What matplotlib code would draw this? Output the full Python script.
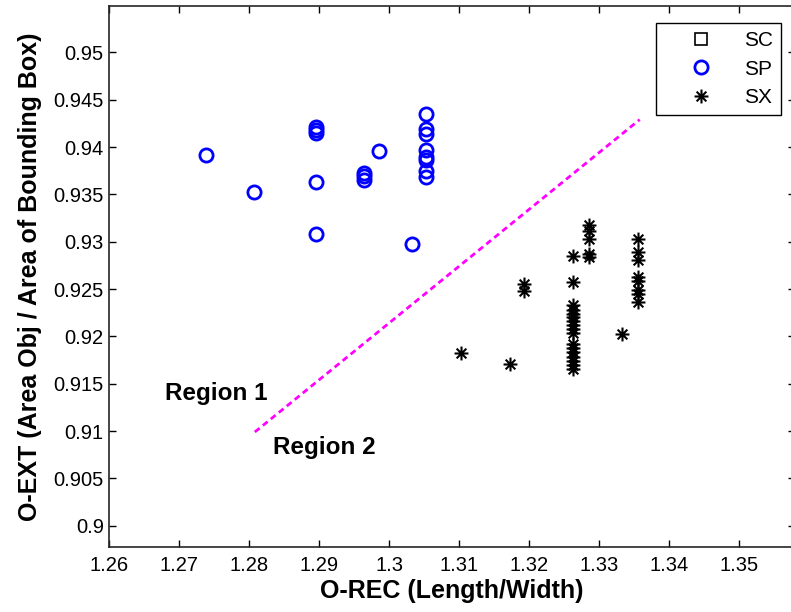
import matplotlib
matplotlib.use('Agg')
import matplotlib.pyplot as plt
from matplotlib.path import Path

plt.rcParams['font.family'] = ['Liberation Sans', 'DejaVu Sans']

# SC class - no samples fall inside the shown range
sc_x = []
sc_y = []

# SP class (blue circles)
sp_x = [1.2738, 1.2807, 1.2895, 1.2895, 1.2895, 1.2895, 1.2895,
        1.2964, 1.2964, 1.2964, 1.2985, 1.3033,
        1.3053, 1.3053, 1.3053, 1.3053, 1.3053, 1.3053, 1.3053, 1.3053]
sp_y = [0.9392, 0.9352, 0.9421, 0.9418, 0.9415, 0.9363, 0.9308,
        0.9373, 0.9369, 0.9365, 0.9396, 0.9298,
        0.9435, 0.9419, 0.9414, 0.9397, 0.9390, 0.9386, 0.9375, 0.9368]

# SX class (black asterisks)
sx_x = [1.3102, 1.3172, 1.3193, 1.3193,
        1.3263, 1.3263, 1.3263, 1.3263, 1.3263, 1.3263, 1.3263, 1.3263,
        1.3263, 1.3263, 1.3263, 1.3263, 1.3263, 1.3263, 1.3263, 1.3263, 1.3263,
        1.3286, 1.3286, 1.3286, 1.3286, 1.3286,
        1.3333,
        1.3356, 1.3356, 1.3356, 1.3356, 1.3356, 1.3356, 1.3356, 1.3356]
sx_y = [0.9182, 0.9171, 0.9255, 0.9248,
        0.9285, 0.9257, 0.9233, 0.9228, 0.9224, 0.9220, 0.9216, 0.9212,
        0.9208, 0.9204, 0.9192, 0.9188, 0.9184, 0.9178, 0.9174, 0.9170, 0.9166,
        0.9318, 0.9311, 0.9303, 0.9287, 0.9284,
        0.9202,
        0.9303, 0.9289, 0.9281, 0.9263, 0.9259, 0.9249, 0.9245, 0.9236]

# boundary between the two regions
line_x = [1.2808, 1.3358]
line_y = [0.9099, 0.9429]

x_ticks = [1.26, 1.27, 1.28, 1.29, 1.30, 1.31, 1.32, 1.33, 1.34, 1.35]
x_labels = ['1.26', '1.27', '1.28', '1.29', '1.3', '1.31', '1.32', '1.33', '1.34', '1.35']
y_ticks = [0.9, 0.905, 0.91, 0.915, 0.92, 0.925, 0.93, 0.935, 0.94, 0.945, 0.95]
y_labels = ['0.9', '0.905', '0.91', '0.915', '0.92', '0.925', '0.93', '0.935', '0.94', '0.945', '0.95']

# MATLAB style asterisk: plus and cross on top of each other
d = 0.7
asterisk = Path([(-1, 0), (1, 0), (0, -1), (0, 1), (-d, -d), (d, d), (-d, d), (d, -d)],
                [Path.MOVETO, Path.LINETO] * 4)

fig = plt.figure(figsize=(7.91, 6.12), dpi=100)
ax = fig.add_axes([0.1382, 0.1054, 0.8669, 0.8848])

ax.plot(sc_x, sc_y, linestyle='none', marker='s', markersize=9,
        markerfacecolor='none', markeredgecolor='black', markeredgewidth=1.2, label='SC')
ax.plot(sp_x, sp_y, linestyle='none', marker='o', markersize=9.5,
        markerfacecolor='none', markeredgecolor='#0000FF', markeredgewidth=2.0, label='SP')
ax.plot(sx_x, sx_y, linestyle='none', marker=asterisk, markersize=10,
        markerfacecolor='none', markeredgecolor='black', markeredgewidth=1.5, label='SX')
ax.plot(line_x, line_y, color='#FF00FF', linewidth=2.0, dashes=(2.2, 1.5))

ax.text(1.268, 0.914, 'Region 1', fontsize=17.5, fontweight='bold', va='center', ha='left')
ax.text(1.2834, 0.9083, 'Region 2', fontsize=17.5, fontweight='bold', va='center', ha='left')

ax.set_xlim(1.26, 1.358)
ax.set_ylim(0.8977, 0.9549)
ax.set_xticks(x_ticks)
ax.set_xticklabels(x_labels)
ax.set_yticks(y_ticks)
ax.set_yticklabels(y_labels)
ax.tick_params(direction='in', length=5, width=1, labelsize=14.5,
               top=True, right=True)
ax.tick_params(axis='x', pad=6)
ax.tick_params(axis='y', pad=4)
for s in ax.spines.values():
    s.set_linewidth(1.2)
    s.set_color('#262626')

ax.set_xlabel('O-REC (Length/Width)', fontsize=18, fontweight='bold', labelpad=3)
ax.set_ylabel('O-EXT (Area Obj / Area of Bounding Box)', fontsize=18, fontweight='bold', labelpad=8)

leg = ax.legend(loc='upper right', bbox_to_anchor=(781 / 791, 1 - 23 / 612),
                bbox_transform=fig.transFigure, fontsize=15, numpoints=1,
                handlelength=3.5, handletextpad=0.3, labelspacing=0.45,
                borderpad=0.4, borderaxespad=0, fancybox=False, framealpha=1,
                edgecolor='black')
leg.get_frame().set_linewidth(1.0)

fig.savefig('out.png', dpi=100)
